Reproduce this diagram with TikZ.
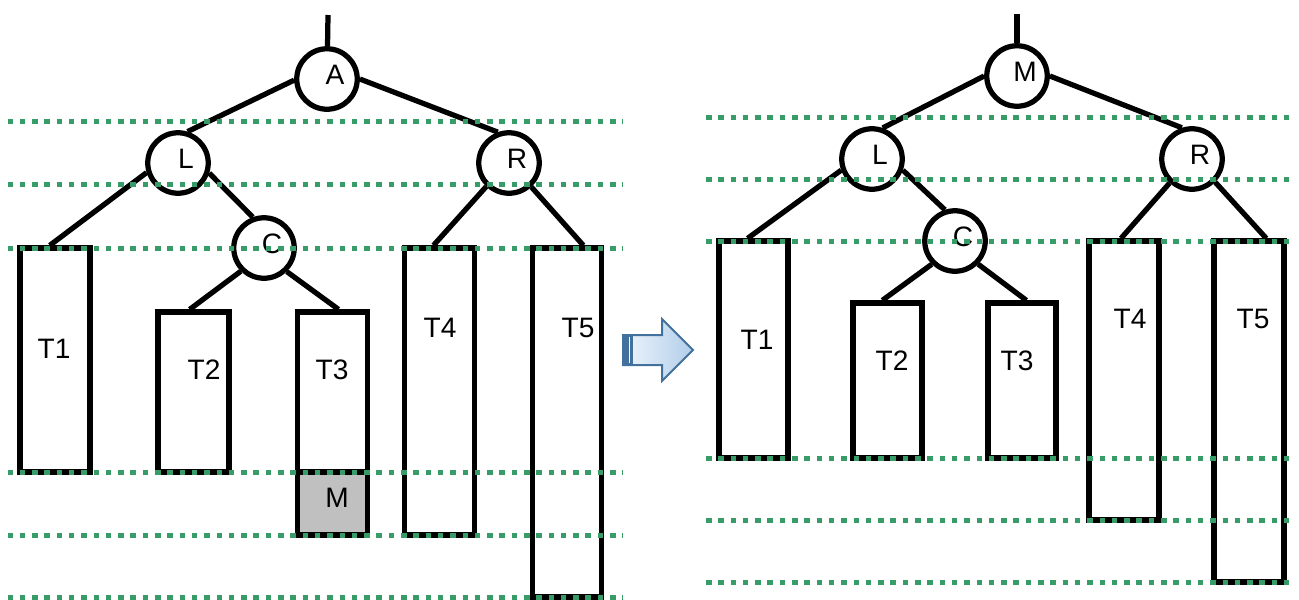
\documentclass[tikz,border=0pt]{standalone}
\usepackage{fontspec}
\setmainfont{Liberation Sans}
\usetikzlibrary{calc, fit}
\definecolor{dotgreen}{RGB}{56,156,104}
\definecolor{boxgray}{RGB}{192,192,192}
\definecolor{arrline}{RGB}{65,113,156}
\definecolor{arrlight}{RGB}{238,244,251}
\definecolor{arrdark}{RGB}{178,206,234}
\tikzset{
  nd/.style={circle, draw, line width=0.105cm, minimum size=1.21cm, inner sep=0pt},
  sub/.style={draw, line width=0.105cm, inner sep=0pt},
  conn/.style={line width=0.105cm},
  dotline/.style={dotgreen, line width=0.1cm, dash pattern=on 0.11cm off 0.136cm},
  lbl/.style={label={[xshift=0.16cm, yshift=0.09cm]center:#1}}
}
\begin{document}
\begin{tikzpicture}[x=0.02cm, y=-0.02cm, font=\fontsize{16}{19}\selectfont]
\useasboundingbox (0,0) rectangle (1299,599);

% before
\coordinate (atop) at (328,15);
\node[nd, lbl=A] (a) at (327,79) {};
\node[nd, lbl=L] (l) at (178,163) {};
\node[nd, lbl=R] (r) at (509,163) {};
\node[nd, lbl=C] (c) at (264,248) {};
\node[sub, fit={(20,248) (90,472)}] (t1) {};
\node[sub, fit={(158,312) (229,472)}] (t2) {};
\node[sub, fit={(297.5,312) (367.5,472)}] (t3) {};
\node[sub, fill=boxgray, fit={(297.5,472) (367.5,535)}] (mb) {};
\node[sub, fit={(404.5,248) (474.5,535)}] (t4) {};
\node[sub, fit={(532.5,248) (601.5,597)}] (t5) {};
\node (t1txt) at (54,349) {T1};
\node (t2txt) at (204,370) {T2};
\node (t3txt) at (332,370) {T3};
\node (mbtxt) at (337,498) {M};
\node (t4txt) at (440,328) {T4};
\node (t5txt) at (578,328) {T5};
\draw[conn] (atop) -- (a);
\draw[conn] (a.182) -- (l.73);
\draw[conn] (a.0) -- (r.110);
\draw[conn] (l.197) -- ($(t1.north west)!.43!(t1.north east)$);
\draw[conn] (l.342) -- (c.110);
\draw[conn] (c.225) -- ($(t2.north west)!.45!(t2.north east)$);
\draw[conn] (c.314) -- ($(t3.north west)!.58!(t3.north east)$);
\draw[conn] (r.226) -- ($(t4.north west)!.42!(t4.north east)$);
\draw[conn] (r.313) -- ($(t5.north west)!.72!(t5.north east)$);

% arrow
\shade[left color=arrlight, right color=arrdark, draw=arrline, line width=0.04cm]
  (623,335) -- (662,335) -- (662,319) -- (693,350) -- (662,381) -- (662,365) -- (623,365) -- cycle;
\fill[arrline] (623,335) rectangle (633,365);
\draw[white, line width=0.03cm] (629.5,337) -- (629.5,363);

% after
\coordinate (mtop) at (1017,14);
\node[nd, lbl=M] (m) at (1017,76) {};
\node[nd, lbl=L] (l2) at (872,159) {};
\node[nd, lbl=R] (r2) at (1192,159) {};
\node[nd, lbl=C] (c2) at (955,241) {};
\node[sub, fit={(719,241) (788,458)}] (s1) {};
\node[sub, fit={(853,303) (922,458)}] (s2) {};
\node[sub, fit={(988,303) (1056,458)}] (s3) {};
\node[sub, fit={(1089,241) (1159,520)}] (s4) {};
\node[sub, fit={(1214,241) (1284,582)}] (s5) {};
\node (s1txt) at (757,340) {T1};
\node (s2txt) at (892,361) {T2};
\node (s3txt) at (1017,361) {T3};
\node (s4txt) at (1130,319) {T4};
\node (s5txt) at (1253,319) {T5};
\draw[conn] (mtop) -- (m);
\draw[conn] (m.180) -- (l2.71);
\draw[conn] (m.0) -- (r2.108);
\draw[conn] (l2.200) -- ($(s1.north west)!.42!(s1.north east)$);
\draw[conn] (l2.340) -- (c2.108);
\draw[conn] (c2.225) -- ($(s2.north west)!.43!(s2.north east)$);
\draw[conn] (c2.315) -- ($(s3.north west)!.56!(s3.north east)$);
\draw[conn] (r2.227) -- ($(s4.north west)!.46!(s4.north east)$);
\draw[conn] (r2.315) -- ($(s5.north west)!.73!(s5.north east)$);

\foreach \y in {121,184,248,472,535,597}
  \draw[dotline] (7.5,\y) -- (623,\y);
\foreach \y in {117,179,241,458,520,582}
  \draw[dotline] (706,\y) -- (1296,\y);
\end{tikzpicture}
\end{document}
